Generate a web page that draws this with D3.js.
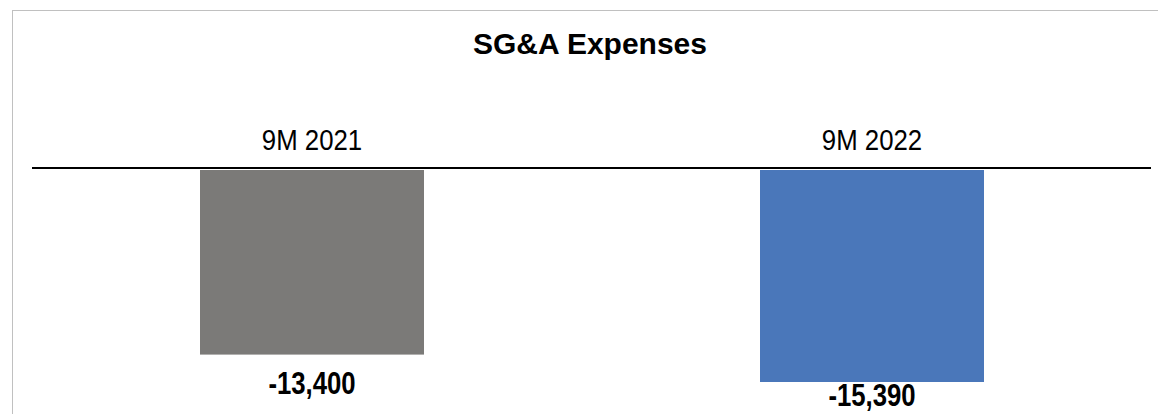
<!doctype html>
<meta charset="utf-8">
<title>SG&amp;A Expenses</title>
<script src="https://cdn.jsdelivr.net/npm/d3@7"></script>
<style>
  body { margin: 0; background: #fff; }
  svg { display: block; }
</style>
<body>
<div id="chart"></div>
<script>

var categories = ['9M 2021', '9M 2022']
  , values = [-13400, -15390]
  , colors = ['#7b7a78', '#4a77ba'];

var width = 1158
  , height = 414
  , axisY = 169
  , font = '"Liberation Sans", Arial, sans-serif';

var svg = d3.select('#chart')
  .append('svg')
  .attr('width', width)
  .attr('height', height);

// chart frame (runs off the right and bottom edge)
svg.append('rect')
  .attr('x', 12.5)
  .attr('y', 10.5)
  .attr('width', 1160)
  .attr('height', 420)
  .style('fill', 'none')
  .style('stroke', '#c0c0c0')
  .style('stroke-width', 1);

svg.append('text')
  .attr('x', 590)
  .attr('y', 54)
  .attr('text-anchor', 'middle')
  .style('font-family', font)
  .style('font-weight', 'bold')
  .style('font-size', '30px')
  .text('SG&A Expenses');

var x = d3.scaleBand()
  .domain(categories)
  .range([32, 1152])
  .paddingInner(0.6)
  .paddingOuter(0.3);

var y = d3.scaleLinear()
  .domain([0, -15390])
  .range([axisY + 1, 382]);

var data = categories.map(function(c, i) { return { cat: c, value: values[i], color: colors[i] }; });

function cx(d) { return x(d.cat) + x.bandwidth() / 2 }

svg.selectAll('rect.bar')
  .data(data)
  .enter().append('rect')
  .classed('bar', true)
  .attr('x', function(d) { return x(d.cat) })
  .attr('y', y(0))
  .attr('width', x.bandwidth())
  .attr('height', function(d) { return y(d.value) - y(0) })
  .style('fill', function(d) { return d.color });

svg.append('line')
  .attr('x1', 32)
  .attr('x2', 1151)
  .attr('y1', axisY - 1)
  .attr('y2', axisY - 1)
  .style('stroke', '#000')
  .style('stroke-width', 2);

// narrow look: squeeze regular glyphs horizontally
svg.selectAll('text.cat')
  .data(data)
  .enter().append('text')
  .classed('cat', true)
  .attr('transform', function(d) { return 'translate(' + cx(d) + ',150) scale(0.86,1)' })
  .attr('text-anchor', 'middle')
  .style('font-family', font)
  .style('font-size', '30px')
  .text(function(d) { return d.cat });

// labels sit below the bar but are kept inside the plot area
svg.selectAll('text.val')
  .data(data)
  .enter().append('text')
  .classed('val', true)
  .attr('transform', function(d) {
    var ly = Math.min(y(d.value) + 39, 406);
    return 'translate(' + cx(d) + ',' + ly + ') scale(0.83,1)';
  })
  .attr('text-anchor', 'middle')
  .style('font-family', font)
  .style('font-weight', 'bold')
  .style('font-size', '31px')
  .text(function(d) { return d3.format(',')(d.value).replace('−', '-') });

</script>
</body>
